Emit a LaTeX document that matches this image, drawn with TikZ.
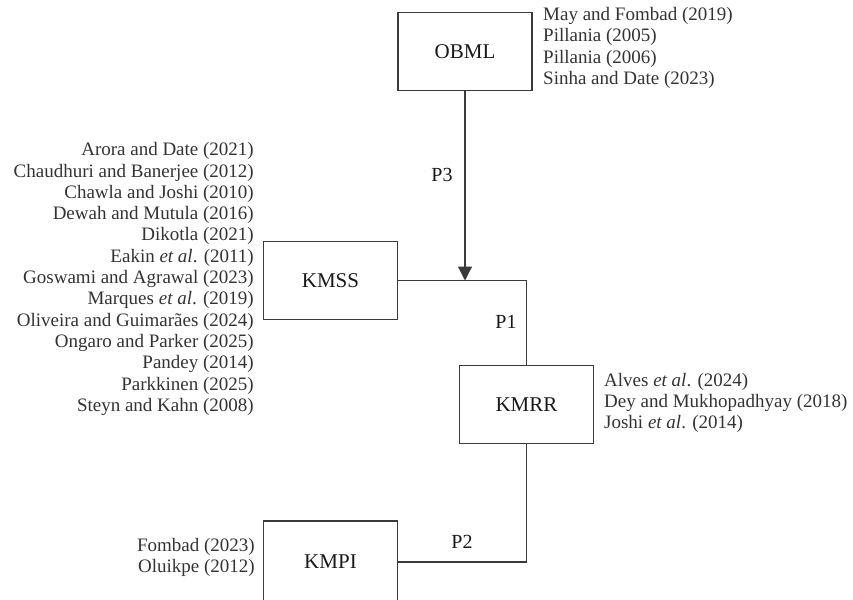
\documentclass[tikz,border=0pt]{standalone}
\usepackage{fontspec}
\setmainfont{Liberation Serif}
\usetikzlibrary{arrows.meta}
\definecolor{linec}{HTML}{3A3A3A}
\definecolor{txtc}{HTML}{333333}
\tikzset{
  box/.style={draw=linec, line width=1.9pt, minimum width=134pt, minimum height=78pt, inner sep=0pt, font=\fontsize{21}{24}\selectfont, text=black!90},
  cite/.style={inner sep=0pt, text=txtc, font=\fontsize{19}{21.3}\selectfont},
  conn/.style={draw=linec, line width=1.2pt},
  plabel/.style={inner sep=0pt, text=black!90, font=\fontsize{20}{23}\selectfont}
}
\begin{document}
\begin{tikzpicture}[x=1pt,y=-1pt]
\useasboundingbox (0,0) rectangle (853,599);
% boxes
\node[box] (obml) at (465,51.5) {OBML};
\node[box] (kmss) at (330.5,280.5) {KMSS};
\node[box] (kmrr) at (526.5,404.5) {KMRR};
\node[box, minimum height=82pt] (kmpi) at (330.5,562) {KMPI};
% citations
\node[cite, align=left, anchor=west] (cobml) at (543,48) {May and Fombad (2019)\\Pillania (2005)\\Pillania (2006)\\Sinha and Date (2023)};
\node[cite, align=right, anchor=east] (ckmss) at (254,279) {Arora and Date (2021)\\Chaudhuri and Banerjee (2012)\\Chawla and Joshi (2010)\\Dewah and Mutula (2016)\\Dikotla (2021)\\Eakin \textit{et al}. (2011)\\Goswami and Agrawal (2023)\\Marques \textit{et al}. (2019)\\Oliveira and Guimarães (2024)\\Ongaro and Parker (2025)\\Pandey (2014)\\Parkkinen (2025)\\Steyn and Kahn (2008)};
\node[cite, align=left, anchor=west] (ckmrr) at (604,403) {Alves \textit{et al}. (2024)\\Dey and Mukhopadhyay (2018)\\Joshi \textit{et al}. (2014)};
\node[cite, align=right, anchor=east] (ckmpi) at (255,557.5) {Fombad (2023)\\Oluikpe (2012)};
% connectors
\coordinate (j1) at (kmrr.north |- kmss.east);
\coordinate (j0) at (obml.south |- kmss.east);
\coordinate (j2) at (kmrr.south |- kmpi.east);
\draw[conn] (kmss.east) -- (j1) -- (kmrr.north);
\draw[conn] (kmrr.south) -- (j2) -- (kmpi.east);
\draw[conn, -{Triangle[width=14pt,length=14pt]}] (obml.south) -- (j0);
% labels
\node[plabel] (p3) at (442,175) {P3};
\node[plabel] (p1) at (506,322) {P1};
\node[plabel] (p2) at (462,542) {P2};
\end{tikzpicture}
\end{document}
